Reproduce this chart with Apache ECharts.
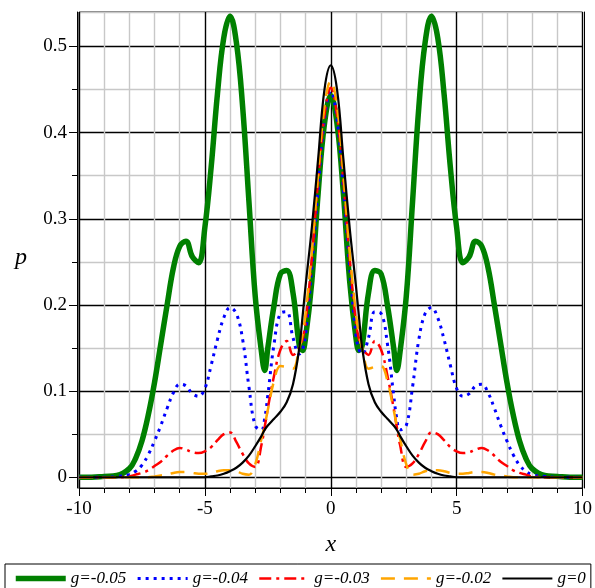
<!DOCTYPE html>
<html>
<head>
<meta charset="utf-8">
<script src="https://cdn.jsdelivr.net/npm/echarts@6/dist/echarts.min.js"></script>
<style>html,body{margin:0;padding:0;background:#fff;}#c{width:595px;height:588px;}</style>
</head>
<body>
<div id="c"></div>
<script>
// x positions shared by all curves
var xs = [-10,-9.5,-9,-8.5,-8,-7.75,-7.5,-7.25,-7,-6.75,-6.5,-6.25,-6,-5.75,-5.5,-5.25,-5,-4.75,-4.5,-4.25,-4,-3.75,-3.5,-3.25,-3,-2.75,-2.625,-2.5,-2.25,-2,-1.75,-1.5,-1.25,-1.125,-1,-0.75,-0.5,-0.25,
  0,
  0.25,0.5,0.75,1,1.125,1.25,1.5,1.75,2,2.25,2.5,2.625,2.75,3,3.25,3.5,3.75,4,4.25,4.5,4.75,5,5.25,5.5,5.75,6,6.25,6.5,6.75,7,7.25,7.5,7.75,8,8.5,9,9.5,10];

var seriesNames = ['g=-0.05','g=-0.04','g=-0.03','g=-0.02','g=0'];

var g005 = [0,0,0.001,0.002,0.01,0.022,0.042,0.072,0.11,0.155,0.2,0.243,0.268,0.274,0.256,0.249,0.29,0.36,0.445,0.51,0.535,0.505,0.43,0.32,0.21,0.145,0.124,0.15,0.2,0.236,0.24,0.214,0.153,0.147,0.162,0.228,0.33,0.41,
  0.443,
  0.41,0.33,0.228,0.162,0.147,0.153,0.214,0.24,0.236,0.2,0.15,0.124,0.145,0.21,0.32,0.43,0.505,0.535,0.51,0.445,0.36,0.29,0.249,0.256,0.274,0.268,0.243,0.2,0.155,0.11,0.072,0.042,0.022,0.01,0.002,0.001,0,0];

var g004 = [0,0,0,0.001,0.003,0.007,0.014,0.026,0.042,0.06,0.08,0.098,0.108,0.106,0.097,0.094,0.103,0.13,0.16,0.185,0.197,0.19,0.16,0.105,0.06,0.055,0.068,0.095,0.155,0.19,0.192,0.162,0.143,0.148,0.165,0.245,0.335,0.415,
  0.448,
  0.415,0.335,0.245,0.165,0.148,0.143,0.162,0.192,0.19,0.155,0.095,0.068,0.055,0.06,0.105,0.16,0.19,0.197,0.185,0.16,0.13,0.103,0.094,0.097,0.106,0.108,0.098,0.08,0.06,0.042,0.026,0.014,0.007,0.003,0.001,0,0,0];

var g003 = [0,0,0,0,0.001,0.003,0.005,0.008,0.013,0.018,0.025,0.031,0.034,0.032,0.029,0.028,0.03,0.035,0.043,0.05,0.052,0.041,0.027,0.016,0.012,0.038,0.058,0.08,0.118,0.148,0.158,0.142,0.15,0.16,0.18,0.255,0.345,0.42,
  0.452,
  0.42,0.345,0.255,0.18,0.16,0.15,0.142,0.158,0.148,0.118,0.08,0.058,0.038,0.012,0.016,0.027,0.041,0.052,0.05,0.043,0.035,0.03,0.028,0.029,0.032,0.034,0.031,0.025,0.018,0.013,0.008,0.005,0.003,0.001,0,0,0,0];

var g002 = [0,0,0,0,0,0,0,0,0.001,0.002,0.003,0.005,0.006,0.006,0.005,0.004,0.004,0.005,0.007,0.008,0.008,0.007,0.004,0.003,0.015,0.045,0.06,0.078,0.112,0.129,0.128,0.126,0.15,0.165,0.19,0.262,0.352,0.43,
  0.46,
  0.43,0.352,0.262,0.19,0.165,0.15,0.126,0.128,0.129,0.112,0.078,0.06,0.045,0.015,0.003,0.004,0.007,0.008,0.008,0.007,0.005,0.004,0.004,0.005,0.006,0.006,0.005,0.003,0.002,0.001,0,0,0,0,0,0,0,0];

var g000 = [0,0,0,0,0,0,0,0,0,0,0,0,0,0,0,0,0,0.001,0.002,0.004,0.007,0.011,0.017,0.025,0.036,0.048,0.055,0.06,0.068,0.076,0.087,0.108,0.15,0.185,0.222,0.29,0.37,0.45,
  0.478,
  0.45,0.37,0.29,0.222,0.185,0.15,0.108,0.087,0.076,0.068,0.06,0.055,0.048,0.036,0.025,0.017,0.011,0.007,0.004,0.002,0.001,0,0,0,0,0,0,0,0,0,0,0,0,0,0,0,0,0];

var yMajorTicks = [0, 0.1, 0.2, 0.3, 0.4, 0.5];
var yMinorTicks = [0.05, 0.15, 0.25, 0.35, 0.45];
var xMajorTicks = [-10, -5, 0, 5, 10];

function pairs(ys) { return xs.map(function (x, i) { return [x, ys[i]]; }); }

var serif = 'Liberation Serif, Times New Roman, serif';
var T = 'rgba(0,0,0,0)';
var G = '#c8c8c8';
var chart = echarts.init(document.getElementById('c'), null, {renderer: 'canvas'});
var yMin = -0.0125, yMax = 0.54;
var colors = ['#008000', '#0000ff', '#ff0000', '#ffa500', '#000000'];
var widths = [5.5, 3, 2.5, 2.5, 2.2];
var dashes = ['solid', [3, 5], [12, 5, 3, 5], [14, 9], 'solid'];
var datasets = [g005, g004, g003, g002, g000];

var option = {
  animation: false,
  backgroundColor: '#fff',
  grid: {left: 79, right: 11.5, top: 12, bottom: 100, show: true, borderColor: '#000', borderWidth: 1, backgroundColor: 'transparent'},
  legend: {
    left: 5, top: 564, width: 590,
    itemWidth: 50, itemHeight: 12, itemGap: 10,
    padding: [6, 5, 10, 8],
    borderColor: '#000', borderWidth: 1,
    itemStyle: {opacity: 0, borderWidth: 0},
    textStyle: {fontFamily: serif, fontStyle: 'italic', fontSize: 17, color: '#000', padding: [8, 0, 0, 0]},
    data: seriesNames.map(function (n, i) {
      return {name: n, lineStyle: {width: widths[i], color: colors[i], type: dashes[i]}};
    })
  },
  xAxis: [
    {type: 'value', min: -10, max: 10, interval: 1, position: 'bottom',
     axisLine: {show: true, onZero: false, lineStyle: {color: '#000', width: 1}},
     axisTick: {show: true, length: 5, lineStyle: {color: '#000'}},
     axisLabel: {show: false},
     splitLine: {show: true, lineStyle: {color: ['#000', G, G, G, G], width: 1.4}}},
    {type: 'value', min: -10, max: 10, position: 'bottom',
     name: 'x', nameLocation: 'middle', nameGap: 45,
     nameTextStyle: {fontFamily: serif, fontStyle: 'italic', fontSize: 24, color: '#000'},
     axisLine: {show: false, onZero: false},
     axisTick: {show: true, length: 8, customValues: xMajorTicks, lineStyle: {color: '#000'}},
     axisLabel: {show: true, customValues: xMajorTicks, margin: 12, fontFamily: serif, fontSize: 19, color: '#000'},
     splitLine: {show: false}}
  ],
  yAxis: [
    {type: 'value', min: yMin, max: yMax, interval: 0.0125, position: 'left',
     axisLine: {show: false, onZero: false}, axisTick: {show: false}, axisLabel: {show: false},
     splitLine: {show: true, lineStyle: {color: [T, '#000', T, T, T, G, T, T], width: 1.4}}},
    {type: 'value', min: yMin, max: yMax, position: 'left', offset: 2,
     name: 'p', nameLocation: 'middle', nameGap: 50, nameRotate: 0,
     nameTextStyle: {fontFamily: serif, fontStyle: 'italic', fontSize: 24, color: '#000', verticalAlign: 'top', padding: [-4, 0, 0, 0]},
     axisLine: {show: true, onZero: false, lineStyle: {color: '#000', width: 1}},
     axisTick: {show: true, length: 8, customValues: yMajorTicks, lineStyle: {color: '#000'}},
     axisLabel: {show: true, customValues: yMajorTicks, margin: 10, fontFamily: serif, fontSize: 19, color: '#000',
                 formatter: function (v) { return Math.abs(v) < 1e-9 ? '0' : v.toFixed(1); }},
     splitLine: {show: false}},
    {type: 'value', min: yMin, max: yMax, position: 'left', offset: 2,
     axisLine: {show: false, onZero: false},
     axisTick: {show: true, length: 5, customValues: yMinorTicks, lineStyle: {color: '#000'}},
     axisLabel: {show: false}, splitLine: {show: false}},
    {type: 'value', min: yMin, max: yMax, position: 'right', offset: 2,
     axisLine: {show: true, onZero: false, lineStyle: {color: '#000', width: 1}},
     axisTick: {show: false}, axisLabel: {show: false}, splitLine: {show: false}}
  ],
  series: seriesNames.map(function (n, i) {
    return {name: n, type: 'line', data: pairs(datasets[i]), smooth: 0.4, symbol: 'none', color: colors[i],
            lineStyle: {color: colors[i], width: widths[i], type: dashes[i]}};
  })
};
chart.setOption(option);
</script>
</body>
</html>
